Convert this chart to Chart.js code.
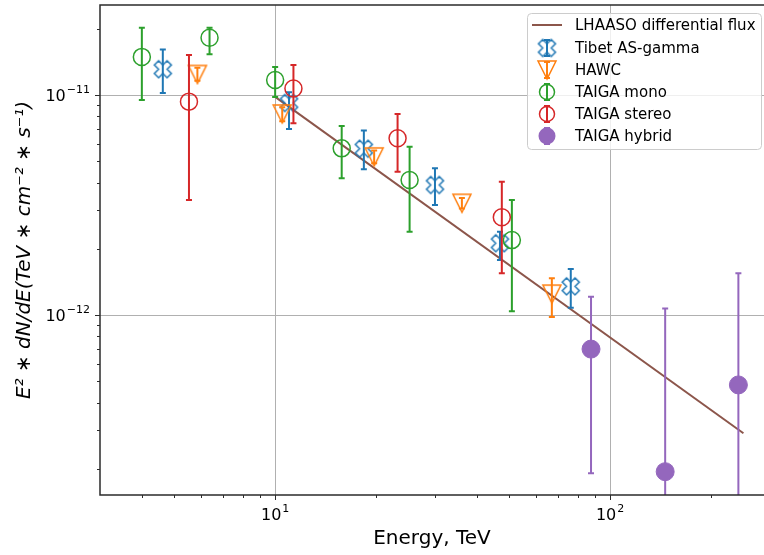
<!DOCTYPE html>
<html>
<head>
<meta charset="utf-8">
<title>Spectrum</title>
<script src="https://cdn.jsdelivr.net/npm/chart.js@4.4.1/dist/chart.umd.min.js"></script>
<style>
  html, body { margin: 0; padding: 0; background: #fff; overflow: hidden; }
  #wrap { width: 764px; height: 555px; }
</style>
</head>
<body>
<div id="wrap"><canvas id="chart" width="764" height="555"></canvas></div>
<script>
// series names (legend order)
const seriesNames = ['LHAASO differential flux', 'Tibet AS-gamma', 'HAWC', 'TAIGA mono', 'TAIGA stereo', 'TAIGA hybrid'];

// LHAASO differential flux (fit line)
const lhaasoEnergy = [10, 250];
const lhaasoFlux = [9.8e-12, 2.9e-13];

// Tibet AS-gamma
const tibetEnergy = [4.62, 11.0, 18.4, 30.0, 46.9, 76.3];
const tibetFlux = [1.31e-11, 9.2e-12, 5.7e-12, 3.9e-12, 2.12e-12, 1.35e-12];
const tibetLow = [1.02e-11, 7.0e-12, 4.6e-12, 3.16e-12, 1.78e-12, 1.08e-12];
const tibetHigh = [1.61e-11, 1.03e-11, 6.9e-12, 4.64e-12, 2.39e-12, 1.62e-12];

// HAWC
const hawcEnergy = [5.86, 10.5, 19.75, 36.1, 67.0];
const hawcFlux = [1.24e-11, 8.2e-12, 5.23e-12, 3.22e-12, 1.245e-12];
const hawcLow = [1.16e-11, 7.6e-12, 4.9e-12, 3.05e-12, 9.8e-13];
const hawcHigh = [1.33e-11, 8.8e-12, 5.6e-12, 3.4e-12, 1.47e-12];

// TAIGA mono
const monoEnergy = [4.0, 6.37, 10.0, 15.8, 25.2, 50.9];
const monoFlux = [1.49e-11, 1.82e-11, 1.17e-11, 5.72e-12, 4.11e-12, 2.19e-12];
const monoLow = [9.5e-12, 1.53e-11, 9.8e-12, 4.18e-12, 2.39e-12, 1.04e-12];
const monoHigh = [2.02e-11, 2.02e-11, 1.34e-11, 7.23e-12, 5.82e-12, 3.33e-12];

// TAIGA stereo
const stereoEnergy = [5.53, 11.34, 23.2, 47.5];
const stereoFlux = [9.33e-12, 1.07e-11, 6.36e-12, 2.78e-12];
const stereoLow = [3.33e-12, 7.44e-12, 4.48e-12, 1.55e-12];
const stereoHigh = [1.52e-11, 1.37e-11, 8.2e-12, 4.03e-12];

// TAIGA hybrid (lower bars run off the axis)
const hybridEnergy = [87.7, 146, 241.5];
const hybridFlux = [7.0e-13, 1.94e-13, 4.81e-13];
const hybridLow = [1.91e-13, 1e-14, 1e-14];
const hybridHigh = [1.21e-12, 1.07e-12, 1.55e-12];

// axes
const xRange = [3, 288];
const yRange = [1.52e-13, 2.565e-11];
const xMajorTicks = [10, 100];
const xTickLabels = ['10^1', '10^2'];
const xMinorTicks = [4, 5, 6, 7, 8, 9, 20, 30, 40, 50, 60, 70, 80, 90, 200];
const yMajorTicks = [1e-12, 1e-11];
const yTickLabels = ['10^\u221212', '10^\u221211'];
const yMinorTicks = [2e-13, 3e-13, 4e-13, 5e-13, 6e-13, 7e-13, 8e-13, 9e-13,
  2e-12, 3e-12, 4e-12, 5e-12, 6e-12, 7e-12, 8e-12, 9e-12, 2e-11];

const colors = {
  brown: '#8c564b',
  blue: '#1f77b4',
  orange: '#ff7f0e',
  green: '#2ca02c',
  red: '#d62728',
  purple: '#9467bd',
};

const FONT = "'DejaVu Sans', sans-serif";

// custom marker images (matplotlib 'X' and 'v', unfilled)
function makeMarker(kind, color, size) {
  const pad = 2;
  const c = document.createElement('canvas');
  c.width = c.height = size + pad * 2;
  const g = c.getContext('2d');
  const m = c.width / 2;
  const h = size / 2;
  g.strokeStyle = color;
  g.lineWidth = 1.5;
  g.beginPath();
  if (kind === 'v') {
    g.moveTo(m, m + h);
    g.lineTo(m - h, m - h);
    g.lineTo(m + h, m - h);
  } else {
    const pts = [[-1, -2], [0, -1], [1, -2], [2, -1], [1, 0], [2, 1],
      [1, 2], [0, 1], [-1, 2], [-2, 1], [-1, 0], [-2, -1]];
    pts.forEach((p, i) => {
      const px = m + p[0] * size / 4;
      const py = m + p[1] * size / 4;
      if (i === 0) g.moveTo(px, py); else g.lineTo(px, py);
    });
  }
  g.closePath();
  g.stroke();
  return c;
}

const tibetMarker = makeMarker('X', colors.blue, 17);
const hawcMarker = makeMarker('v', colors.orange, 18);

function toPoints(xs, ys) {
  return xs.map((x, i) => ({ x: x, y: ys[i] }));
}

// error bars drawn just before each dataset's markers
const errorBarPlugin = {
  id: 'errorBars',
  beforeDatasetDraw(chart, args) {
    const ds = chart.data.datasets[args.index];
    if (!ds.errLow) return;
    const xs = chart.scales.x;
    const ys = chart.scales.y;
    const a = chart.chartArea;
    const ctx = chart.ctx;
    ctx.save();
    ctx.beginPath();
    ctx.rect(a.left, a.top, a.right - a.left, a.bottom - a.top);
    ctx.clip();
    ctx.strokeStyle = ds.errColor;
    ctx.lineWidth = 2;
    ds.data.forEach((p, i) => {
      const px = xs.getPixelForValue(p.x);
      const y1 = ys.getPixelForValue(ds.errLow[i]);
      const y2 = ys.getPixelForValue(ds.errHigh[i]);
      ctx.beginPath();
      ctx.moveTo(px, y1); ctx.lineTo(px, y2);
      ctx.moveTo(px - 3, y1); ctx.lineTo(px + 3, y1);
      ctx.moveTo(px - 3, y2); ctx.lineTo(px + 3, y2);
      ctx.stroke();
    });
    ctx.restore();
  },
};

// '10^-11' style label with a raised exponent
function drawPowerLabel(ctx, text, x, baseY, align) {
  const parts = text.split('^');
  ctx.font = '16px ' + FONT;
  const wBase = ctx.measureText(parts[0]).width;
  ctx.font = '11px ' + FONT;
  const wExp = ctx.measureText(parts[1]).width;
  const total = wBase + wExp + 1;
  let left = align === 'right' ? x - total : x - total / 2;
  ctx.textAlign = 'left';
  ctx.textBaseline = 'alphabetic';
  ctx.fillStyle = '#000';
  ctx.font = '16px ' + FONT;
  ctx.fillText(parts[0], left, baseY);
  ctx.font = '11px ' + FONT;
  ctx.fillText(parts[1], left + wBase + 1, baseY - 8);
}

// frame, tick marks and tick labels
const framePlugin = {
  id: 'frame',
  afterDatasetsDraw(chart) {
    const ctx = chart.ctx;
    const a = chart.chartArea;
    const xs = chart.scales.x;
    const ys = chart.scales.y;
    ctx.save();
    ctx.strokeStyle = '#2b2b2b';
    ctx.lineWidth = 1.5;
    ctx.beginPath();
    ctx.moveTo(a.right + 2, a.top);
    ctx.lineTo(a.left, a.top);
    ctx.lineTo(a.left, a.bottom);
    ctx.lineTo(a.right + 2, a.bottom);
    ctx.stroke();

    ctx.lineWidth = 1;
    ctx.beginPath();
    xMajorTicks.forEach((v) => {
      const px = Math.round(xs.getPixelForValue(v)) + 0.5;
      ctx.moveTo(px, a.bottom); ctx.lineTo(px, a.bottom + 5);
    });
    xMinorTicks.forEach((v) => {
      const px = Math.round(xs.getPixelForValue(v)) + 0.5;
      ctx.moveTo(px, a.bottom); ctx.lineTo(px, a.bottom + 3);
    });
    yMajorTicks.forEach((v) => {
      const py = Math.round(ys.getPixelForValue(v)) + 0.5;
      ctx.moveTo(a.left, py); ctx.lineTo(a.left - 5, py);
    });
    yMinorTicks.forEach((v) => {
      const py = Math.round(ys.getPixelForValue(v)) + 0.5;
      ctx.moveTo(a.left, py); ctx.lineTo(a.left - 3, py);
    });
    ctx.stroke();

    xMajorTicks.forEach((v, i) => {
      drawPowerLabel(ctx, xTickLabels[i], xs.getPixelForValue(v), a.bottom + 25, 'center');
    });
    yMajorTicks.forEach((v, i) => {
      drawPowerLabel(ctx, yTickLabels[i], a.left - 10, ys.getPixelForValue(v) + 6, 'right');
    });
    ctx.restore();
  },
};

// legend box in the upper right corner
const legendPlugin = {
  id: 'cornerLegend',
  afterDraw(chart) {
    const ctx = chart.ctx;
    const box = { x: 527.5, y: 13.5, w: 234, h: 136 };
    ctx.save();
    ctx.beginPath();
    ctx.roundRect(box.x, box.y, box.w, box.h, 4);
    ctx.fillStyle = 'rgba(255,255,255,0.8)';
    ctx.fill();
    ctx.strokeStyle = '#cccccc';
    ctx.lineWidth = 1;
    ctx.stroke();

    const hx = 547;
    const rows = [25, 48, 70, 92, 114, 136];
    const kinds = ['line', 'X', 'v', 'o', 'o', 'filled'];
    const cols = [colors.brown, colors.blue, colors.orange, colors.green, colors.red, colors.purple];
    rows.forEach((ry, i) => {
      ctx.strokeStyle = cols[i];
      if (kinds[i] === 'line') {
        ctx.lineWidth = 2;
        ctx.beginPath();
        ctx.moveTo(532, ry); ctx.lineTo(562, ry);
        ctx.stroke();
      } else {
        ctx.lineWidth = 2;
        ctx.beginPath();
        ctx.moveTo(hx, ry - 8); ctx.lineTo(hx, ry + 8);
        ctx.moveTo(hx - 3, ry - 8); ctx.lineTo(hx + 3, ry - 8);
        ctx.moveTo(hx - 3, ry + 8); ctx.lineTo(hx + 3, ry + 8);
        ctx.stroke();
        if (kinds[i] === 'X') {
          ctx.drawImage(tibetMarker, hx - tibetMarker.width / 2, ry - tibetMarker.height / 2);
        } else if (kinds[i] === 'v') {
          ctx.drawImage(hawcMarker, hx - hawcMarker.width / 2, ry - hawcMarker.height / 2);
        } else if (kinds[i] === 'o') {
          ctx.lineWidth = 1.5;
          ctx.beginPath();
          ctx.arc(hx, ry, 7.5, 0, Math.PI * 2);
          ctx.stroke();
        } else {
          ctx.fillStyle = cols[i];
          ctx.beginPath();
          ctx.arc(hx, ry, 8.5, 0, Math.PI * 2);
          ctx.fill();
        }
      }
      ctx.fillStyle = '#000';
      ctx.font = '15px ' + FONT;
      ctx.textAlign = 'left';
      ctx.textBaseline = 'middle';
      ctx.fillText(seriesNames[i], 575, ry + 1);
    });
    ctx.restore();
  },
};

function majorOnly(list) {
  return (c) => (c.tick && list.includes(c.tick.value) ? '#b0b0b0' : 'rgba(0,0,0,0)');
}

Chart.defaults.font.family = FONT;
Chart.defaults.color = '#000';

const datasets = [
  {
    label: seriesNames[0],
    type: 'line',
    data: toPoints(lhaasoEnergy, lhaasoFlux),
    borderColor: colors.brown,
    borderWidth: 2,
    pointRadius: 0,
    fill: false,
    order: 6,
  },
  {
    label: seriesNames[1],
    data: toPoints(tibetEnergy, tibetFlux),
    errLow: tibetLow, errHigh: tibetHigh, errColor: colors.blue,
    pointStyle: tibetMarker,
    pointRadius: 9,
    order: 5,
  },
  {
    label: seriesNames[2],
    data: toPoints(hawcEnergy, hawcFlux),
    errLow: hawcLow, errHigh: hawcHigh, errColor: colors.orange,
    pointStyle: hawcMarker,
    pointRadius: 9,
    order: 4,
  },
  {
    label: seriesNames[3],
    data: toPoints(monoEnergy, monoFlux),
    errLow: monoLow, errHigh: monoHigh, errColor: colors.green,
    pointStyle: 'circle',
    pointRadius: 8.5,
    borderColor: colors.green,
    borderWidth: 1.5,
    backgroundColor: 'rgba(0,0,0,0)',
    order: 3,
  },
  {
    label: seriesNames[4],
    data: toPoints(stereoEnergy, stereoFlux),
    errLow: stereoLow, errHigh: stereoHigh, errColor: colors.red,
    pointStyle: 'circle',
    pointRadius: 8.5,
    borderColor: colors.red,
    borderWidth: 1.5,
    backgroundColor: 'rgba(0,0,0,0)',
    order: 2,
  },
  {
    label: seriesNames[5],
    data: toPoints(hybridEnergy, hybridFlux),
    errLow: hybridLow, errHigh: hybridHigh, errColor: colors.purple,
    pointStyle: 'circle',
    pointRadius: 9,
    borderColor: colors.purple,
    borderWidth: 1,
    backgroundColor: colors.purple,
    order: 1,
  },
];

new Chart(document.getElementById('chart'), {
  type: 'scatter',
  data: { datasets: datasets },
  options: {
    responsive: false,
    animation: false,
    devicePixelRatio: 1,
    layout: { autoPadding: false, padding: { top: 5, right: 0, left: 0, bottom: 0 } },
    plugins: {
      legend: { display: false },
      tooltip: { enabled: false },
    },
    scales: {
      x: {
        type: 'logarithmic',
        min: xRange[0],
        max: xRange[1],
        afterFit: (s) => { s.height = 60; },
        afterBuildTicks: (s) => {
          s.ticks = xMajorTicks.concat(xMinorTicks).map((v) => ({ value: v }));
        },
        ticks: { display: false, autoSkip: false },
        grid: { color: majorOnly(xMajorTicks), lineWidth: 1, drawTicks: false },
        border: { display: false },
        title: {
          display: true,
          text: 'Energy, TeV',
          font: { size: 20, family: FONT },
          padding: { top: 0, bottom: 4 },
        },
      },
      y: {
        type: 'logarithmic',
        min: yRange[0],
        max: yRange[1],
        afterFit: (s) => { s.width = 100; },
        afterBuildTicks: (s) => {
          s.ticks = yMajorTicks.concat(yMinorTicks).map((v) => ({ value: v }));
        },
        ticks: { display: false, autoSkip: false },
        grid: { color: majorOnly(yMajorTicks), lineWidth: 1, drawTicks: false },
        border: { display: false },
        title: {
          display: true,
          text: 'E\u00b2 \u2217 dN/dE(TeV \u2217 cm\u207b\u00b2 \u2217 s\u207b\u00b9)',
          font: { size: 20, family: FONT, style: 'italic' },
          padding: { top: 13, bottom: 0 },
        },
      },
    },
  },
  plugins: [errorBarPlugin, framePlugin, legendPlugin],
});
</script>
</body>
</html>
